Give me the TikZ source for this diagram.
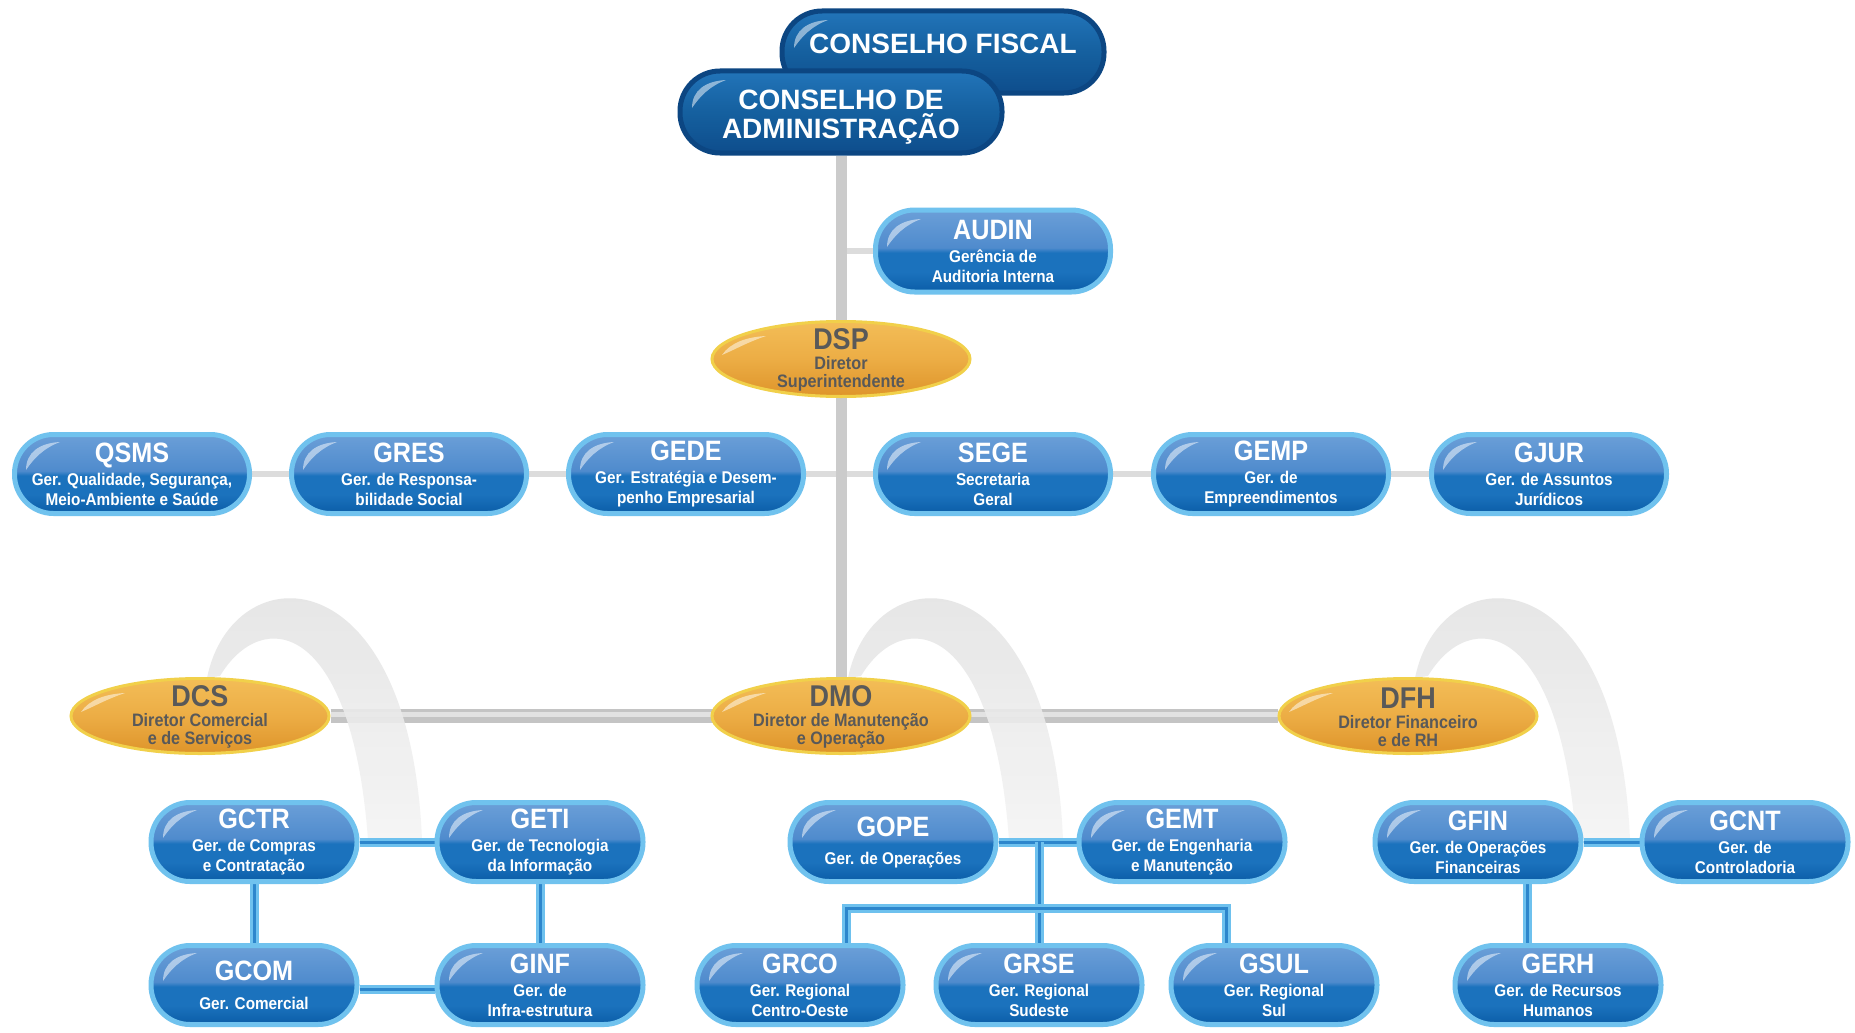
\documentclass[tikz,border=0pt]{standalone}
\usepackage{fontspec}
\setmainfont{Liberation Sans}
\newfontfamily\condfont[FakeStretch=0.9]{Liberation Sans}
\usetikzlibrary{shapes.geometric}
\definecolor{bbord}{HTML}{70C2EE}
\definecolor{btop}{HTML}{6B9FD8}
\definecolor{bmid}{HTML}{4F8BCD}
\definecolor{bmidd}{HTML}{1B72BD}
\definecolor{bbot}{HTML}{0B5DA7}
\definecolor{ctop}{HTML}{2274B9}
\definecolor{cmid}{HTML}{15609F}
\definecolor{cbot}{HTML}{0E4D8C}
\definecolor{cbord}{HTML}{0C4682}
\definecolor{etop}{HTML}{F3BD57}
\definecolor{emid}{HTML}{ECAD45}
\definecolor{ebot}{HTML}{DE942A}
\definecolor{ebord}{HTML}{F1D04A}
\definecolor{egray}{HTML}{595959}
\definecolor{trunkc}{HTML}{CBCBCB}
\definecolor{thinc}{HTML}{DCDCDC}
\definecolor{barc}{HTML}{C4C4C4}
\definecolor{barh}{HTML}{E2E2E2}
\definecolor{arcT}{HTML}{E0E0E0}
\definecolor{arcB}{HTML}{F4F4F4}
\definecolor{blone}{HTML}{6EC1EE}
\definecolor{bltwo}{HTML}{2D86CC}
\pgfdeclareverticalshading{boxshade}{100bp}{color(0bp)=(bbot); color(25bp)=(bbot); color(37bp)=(bmidd); color(49bp)=(bmidd); color(52bp)=(bmid); color(75bp)=(btop); color(100bp)=(btop)}
\pgfdeclareverticalshading{cshade}{100bp}{color(0bp)=(cbot); color(25bp)=(cbot); color(50bp)=(cmid); color(75bp)=(ctop); color(100bp)=(ctop)}
\pgfdeclareverticalshading{eshade}{100bp}{color(0bp)=(ebot); color(25bp)=(ebot); color(50bp)=(emid); color(75bp)=(etop); color(100bp)=(etop)}
\pgfdeclarelayer{bg}
\pgfsetlayers{bg,main}
\newcommand\subf{\condfont\bfseries\fontsize{17}{20}\selectfont}
\newcommand\esub{\condfont\bfseries\fontsize{18}{18}\selectfont}
\newcommand\cfont{\bfseries\fontsize{28}{29}\selectfont}
\newcommand\bt[1]{{\fontsize{28}{28}\selectfont\bfseries #1}}
\newcommand\et[1]{{\condfont\fontsize{30}{30}\selectfont\bfseries #1}}
% glossy crescent at the top left of a box / ellipse
\newcommand\shineb[2]{\fill[white,opacity=.5,shift={(#1.center)}] (-#2+12,-4) .. controls (-#2+12,-22) and (-#2+26,-31) .. (-#2+46,-32) .. controls (-#2+30,-26) and (-#2+20,-16) .. cycle;}
\newcommand\shinee[2]{\fill[white,opacity=.5,shift={(#1.center)}] (-#2+10,-4) .. controls (-#2+18,-16) and (-#2+34,-22) .. (-#2+54,-23) .. controls (-#2+36,-17) and (-#2+24,-10) .. cycle;}
\newcommand\arcband[1]{\shade[top color=arcT, bottom color=arcB, opacity=.88, shift={(#1)}] (7,-38) .. controls (32,-162) and (210,-165) .. (222,124) -- (168,124) .. controls (152,-96) and (62,-110) .. (20,-40) -- cycle;}
\begin{document}
\begin{tikzpicture}[x=1pt,y=-1pt,
  gbox/.style={shape=rectangle, rounded corners=39pt, minimum width=235pt, minimum height=79pt,
    inner sep=0pt, draw=bbord, line width=5pt, shade, shading=boxshade, text=white,
    align=center, font=\subf},
  sbox/.style={gbox, minimum width=206pt},
  council/.style={shape=rectangle, rounded corners=40pt, minimum width=322pt, minimum height=82pt,
    inner sep=0pt, draw=cbord, line width=5pt, shade, shading=cshade, text=white,
    align=center, font=\cfont},
  ctxt/.style={text=white, align=center, font=\cfont, inner sep=0pt},
  dell/.style={ellipse, minimum width=258pt, minimum height=75pt, inner sep=0pt,
    draw=ebord, line width=3pt, shade, shading=eshade},
  dtxt/.style={text=egray, align=center, font=\esub, inner sep=0pt},
  trunk/.style={draw=trunkc, line width=11pt},
  thinl/.style={draw=thinc, line width=6pt},
  bar/.style={draw=barc, line width=14pt, postaction={draw=barh, line width=5pt, transform canvas={yshift=2pt}}},
  bconn/.style={draw=blone, line width=9pt, line join=miter, postaction={draw=bltwo, line width=3pt}}
]
\begin{pgfonlayer}{bg}
\fill[white] (0,0) rectangle (1855,1033);
\end{pgfonlayer}
\useasboundingbox (0,0) rectangle (1855,1033);

% councils
\node[council] (cf) at (943,52) {};
\node[ctxt] (cft) at (943,44) {CONSELHO FISCAL};
\shineb{cf}{161}
\node[council] (ca) at (841,112) {};
\node[ctxt] (cat) at (841,117) {CONSELHO DE\\ADMINISTRAÇÃO};
\shineb{ca}{161}

% audin and DSP
\node[gbox, minimum height=82pt] (audin) at (993,251) {\bt{AUDIN}\\[3pt]Gerência de\\Auditoria Interna};
\node[dell] (dsp) at (841,359) {};
\node[dtxt] (dspt) at (841,360) {\et{DSP}\\[2pt]Diretor\\Superintendente};

% staff row
\node[gbox] (qsms) at (132,474) {\bt{QSMS}\\[3pt]Ger. Qualidade, Segurança,\\Meio-Ambiente e Saúde};
\node[gbox] (gres) at (409,474) {\bt{GRES}\\[3pt]Ger. de Responsa-\\bilidade Social};
\node[gbox] (gede) at (686,474) {\bt{GEDE}\\[3pt]Ger. Estratégia e Desem-\\penho Empresarial};
\node[gbox] (sege) at (993,474) {\bt{SEGE}\\[3pt]Secretaria\\Geral};
\node[gbox] (gemp) at (1271,474) {\bt{GEMP}\\[3pt]Ger. de\\Empreendimentos};
\node[gbox] (gjur) at (1549,474) {\bt{GJUR}\\[3pt]Ger. de Assuntos\\Jurídicos};

% directors
\node[dell] (dcs) at (200,716) {};
\node[dtxt] (dcst) at (200,717) {\et{DCS}\\[2pt]Diretor Comercial\\e de Serviços};
\node[dell] (dmo) at (841,716) {};
\node[dtxt] (dmot) at (841,717) {\et{DMO}\\[2pt]Diretor de Manutenção\\e Operação};
\node[dell] (dfh) at (1408,716) {};
\node[dtxt] (dfht) at (1408,717) {\et{DFH}\\[2pt]Diretor Financeiro\\e de RH};

% managers row 2
\node[sbox] (gctr) at (254,842) {\bt{GCTR}\\[3pt]Ger. de Compras\\e Contratação};
\node[sbox] (geti) at (540,842) {\bt{GETI}\\[3pt]Ger. de Tecnologia\\da Informação};
\node[sbox] (gope) at (893,842) {\bt{GOPE}\\[8pt]Ger. de Operações};
\node[sbox] (gemt) at (1182,842) {\bt{GEMT}\\[3pt]Ger. de Engenharia\\e Manutenção};
\node[sbox] (gfin) at (1478,842) {\bt{GFIN}\\[3pt]Ger. de Operações\\Financeiras};
\node[sbox] (gcnt) at (1745,842) {\bt{GCNT}\\[3pt]Ger. de\\Controladoria};

% managers row 3
\node[sbox] (gcom) at (254,985) {\bt{GCOM}\\[9pt]Ger. Comercial};
\node[sbox] (ginf) at (540,985) {\bt{GINF}\\[3pt]Ger. de\\Infra-estrutura};
\node[sbox] (grco) at (800,985) {\bt{GRCO}\\[3pt]Ger. Regional\\Centro-Oeste};
\node[sbox] (grse) at (1039,985) {\bt{GRSE}\\[3pt]Ger. Regional\\Sudeste};
\node[sbox] (gsul) at (1274,985) {\bt{GSUL}\\[3pt]Ger. Regional\\Sul};
\node[sbox] (gerh) at (1558,985) {\bt{GERH}\\[3pt]Ger. de Recursos\\Humanos};

% gloss highlights
\foreach \n/\h in {audin/118,qsms/118,gres/118,gede/118,sege/118,gemp/118,gjur/118,
  gctr/103,geti/103,gope/103,gemt/103,gfin/103,gcnt/103,
  gcom/103,ginf/103,grco/103,grse/103,gsul/103,gerh/103}{\shineb{\n}{\h}}
\foreach \n in {dsp,dcs,dmo,dfh}{\shinee{\n}{129}}

\coordinate (busL) at (846,908);
\coordinate (busR) at (1226,908);
\coordinate (fgx) at (1527,900);

\begin{pgfonlayer}{bg}
% gray structure
\draw[thinl] (qsms) -- (gjur);
\draw[thinl] (audin.west -| ca.south) -- (audin.west);
\draw[trunk] (ca.south) -- (dmo.north);
\draw[bar] (dcs) -- (dfh);
% arcs
\arcband{dcs.center}
\arcband{dmo.center}
\arcband{dfh.center}
% blue connectors
\draw[bconn] (gctr) -- (geti);
\draw[bconn] (gctr) -- (gcom);
\draw[bconn] (geti) -- (ginf);
\draw[bconn] (gcom.east |- 0,989) -- (ginf.west |- 0,989);
\draw[bconn] (gope) -- (gemt);
\draw[bconn] (grse |- gope) -- (grse);
\draw[bconn] (busL |- grco) -- (busL) -- (busR) -- (busR |- gsul);
\draw[bconn] (gfin) -- (gcnt);
\draw[bconn] (fgx |- gfin) -- (fgx |- gerh);
\end{pgfonlayer}
\end{tikzpicture}
\end{document}
